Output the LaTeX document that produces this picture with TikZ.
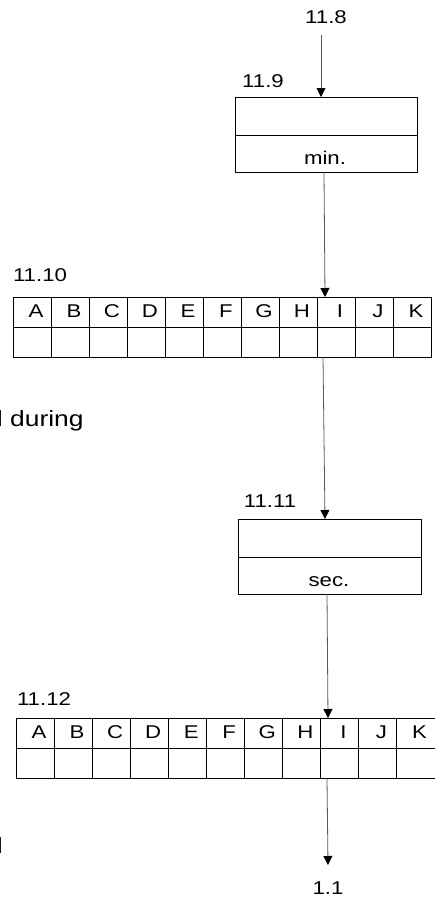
\documentclass[tikz,border=0pt]{standalone}
\usepackage{fontspec}
\setmainfont{Liberation Sans}[FakeStretch=1.2]
\usetikzlibrary{arrows.meta}
\begin{document}
\begin{tikzpicture}[x=1pt,y=-1pt,
  lbl/.style={font=\fontsize{18.5}{20}\selectfont, inner sep=0pt},
  big/.style={font=\fontsize{22}{24}\selectfont, inner sep=0pt},
  conn/.style={line width=0.8pt, draw=black!65, -{Triangle[length=9pt,width=9pt,color=black,fill=black]}},
  frame/.style={draw, line width=0.9pt, inner sep=0pt, anchor=north west},
  rule/.style={line width=0.9pt}]
\useasboundingbox (0,0) rectangle (435,902);

% labels
\node[lbl] (l118) at (326,17) {11.8};
\node[lbl] (l119) at (263,81) {11.9};
\node[lbl] (l1110) at (40,275.5) {11.10};
\node[lbl] (l1111) at (270,501) {11.11};
\node[lbl] (l1112) at (44,699) {11.12};
\node[lbl] (l11) at (328,888) {1.1};

% clipped side text
\node[big, anchor=base west] (during) at (-12,426.7) {d during};
\node[big, anchor=base west] (frag) at (-12,853) {d};

% box 1
\node[frame, minimum width=182pt, minimum height=75pt] (box1) at (235,97) {};
\draw[rule] (235,135) -- (417,135);
\node[lbl, anchor=base] (min) at (325,164.5) {min.};

% table 1
\node[frame, minimum width=418pt, minimum height=60pt] (tab1) at (13,297) {};
\draw[rule] (13,327) -- (431,327);
\foreach \l [count=\i from 0] in {A,B,C,D,E,F,G,H,I,J,K} {
  \ifnum\i>0 \draw[rule] (13+38*\i,297) -- (13+38*\i,357); \fi
  \node[lbl, anchor=base] (ta\l) at (13+38*\i+23,317) {\l};
}

% box 2
\node[frame, minimum width=183pt, minimum height=75pt] (box2) at (238,519) {};
\draw[rule] (238,557) -- (421,557);
\node[lbl, anchor=base] (sec) at (329,586) {sec.};

% table 2
\node[frame, minimum width=418.5pt, minimum height=60pt] (tab2) at (16,718) {};
\draw[rule] (16,748) -- (434.5,748);
\foreach \l [count=\i from 0] in {A,B,C,D,E,F,G,H,I,J,K} {
  \ifnum\i>0 \draw[rule] (16+38.05*\i,718) -- (16+38.05*\i,778); \fi
  \node[lbl, anchor=base] (tb\l) at (16+38.05*\i+23,738.5) {\l};
}

% connector end points
\coordinate (s1) at (321,35);
\coordinate (b1i) at (321,97);
\coordinate (b1o) at (324,172);
\coordinate (t1i) at (325,297);
\coordinate (t1o) at (323,357);
\coordinate (b2i) at (325,519);
\coordinate (b2o) at (327,594);
\coordinate (t2i) at (328,718);
\coordinate (t2o) at (327,778);
\coordinate (e1) at (328,865);

\draw[conn] (s1) -- (b1i);
\draw[conn] (b1o) -- (t1i);
\draw[conn] (t1o) -- (b2i);
\draw[conn] (b2o) -- (t2i);
\draw[conn] (t2o) -- (e1);
\end{tikzpicture}
\end{document}
